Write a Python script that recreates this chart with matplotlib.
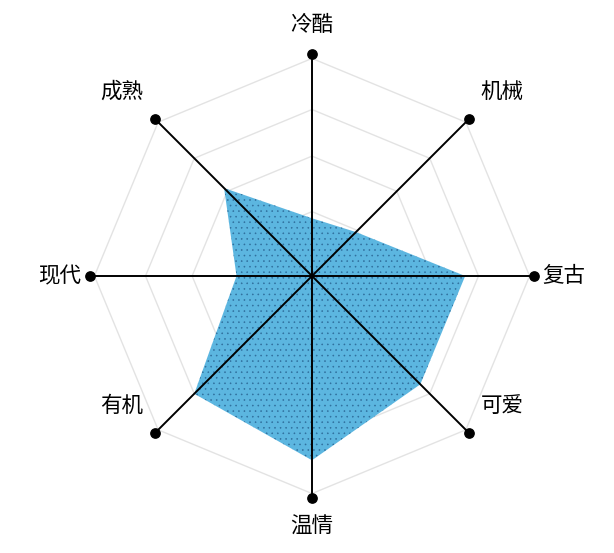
import numpy as np
import matplotlib.pyplot as plt

plt.rcParams['font.family'] = ['Noto Sans CJK SC', 'DejaVu Sans']
plt.rcParams['hatch.linewidth'] = 0.4

# axes go clockwise from the top
labels = ['冷酷', '机械', '复古', '可爱', '温情', '有机', '现代', '成熟']
values = [26, 28, 69, 69, 83, 75, 34, 56]
grid_levels = [29, 54, 75, 98]
vmax = 100

n = len(labels)
ang = np.pi / 2 - np.arange(n) * 2 * np.pi / n
cx, cy = np.cos(ang), np.sin(ang)

W, H = 614, 553
scale = 222.0  # px per unit radius
ox, oy = 312, 276

fig = plt.figure(figsize=(W / 100, H / 100), dpi=100)
ax = fig.add_axes([0, 0, 1, 1])
ax.set_xlim(-ox / scale, (W - ox) / scale)
ax.set_ylim(-(H - oy) / scale, oy / scale)
ax.axis('off')

# grid octagons
for g in grid_levels:
    r = g / vmax
    ax.plot(np.append(cx, cx[0]) * r, np.append(cy, cy[0]) * r,
            color='#e3e3e3', lw=1.0, zorder=1)

# data polygon
r = np.array(values) / vmax
ax.fill(cx * r, cy * r, facecolor='#5cb6e0', edgecolor='#2f6e9c',
        hatch='...', lw=0, zorder=2)

# spokes and end dots
for i in range(n):
    ax.plot([0, cx[i]], [0, cy[i]], color='black', lw=1.4, zorder=3)
ax.scatter(cx, cy, s=45, color='black', zorder=4)

# labels
for i in range(n):
    if abs(cx[i]) < 0.01:
        x, y = 0, cy[i] * (1 + 29 / scale)
    elif abs(cy[i]) < 0.01:
        x, y = cx[i] * (1 + 30 / scale), 0
    else:
        x = cx[i] + np.sign(cx[i]) * 33 / scale
        y = cy[i] + 27 / scale
    ax.text(x, y, labels[i], fontsize=15.5, ha='center', va='center', zorder=5)

fig.savefig('out.png', dpi=100)
